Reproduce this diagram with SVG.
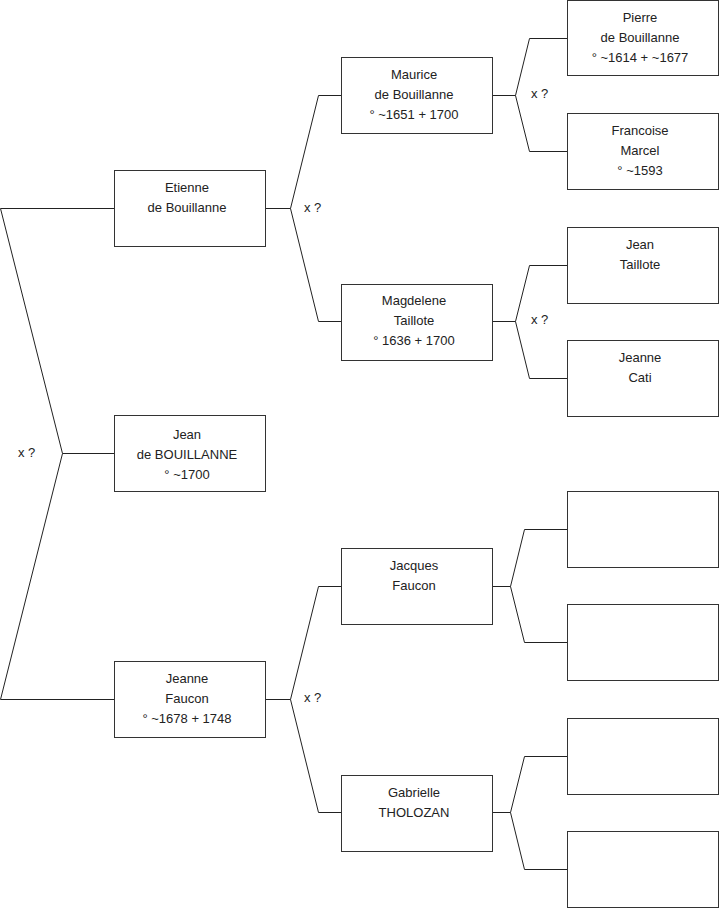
<svg xmlns="http://www.w3.org/2000/svg" width="719" height="908" viewBox="0 0 719 908">
<style>
.box{fill:#fff;stroke:#333;stroke-width:1}
.c{fill:none;stroke:#222;stroke-width:1}
text{font-family:"Liberation Sans",Arial,sans-serif;font-size:13px;fill:#222;text-anchor:middle}
.l{text-anchor:start}
</style>
<rect width="719" height="908" fill="#fff"/>
<g id="connectors">
<polyline class="c" points="114,208.5 0.5,208.5 62.5,453.5 0.5,699.5 114,699.5"/>
<line class="c" x1="62.5" y1="453.5" x2="114" y2="453.5"/>
<polyline class="c" points="341,95.5 318.5,95.5 290.5,208.5 318.5,321.5 341,321.5"/>
<line class="c" x1="265" y1="208.5" x2="290.5" y2="208.5"/>
<polyline class="c" points="341,586.5 318.5,586.5 290.5,699.5 318.5,812.5 341,812.5"/>
<line class="c" x1="265" y1="699.5" x2="290.5" y2="699.5"/>
<polyline class="c" points="567,38.5 529.5,38.5 515.5,95.5 529.5,151.5 567,151.5"/>
<line class="c" x1="492" y1="95.5" x2="515.5" y2="95.5"/>
<polyline class="c" points="567,265.5 529.5,265.5 515.5,321.5 529.5,378.5 567,378.5"/>
<line class="c" x1="492" y1="321.5" x2="515.5" y2="321.5"/>
<polyline class="c" points="567,529.5 524.5,529.5 510.5,586.5 524.5,642.5 567,642.5"/>
<line class="c" x1="492" y1="586.5" x2="510.5" y2="586.5"/>
<polyline class="c" points="567,756.5 524.5,756.5 510.5,812.5 524.5,869.5 567,869.5"/>
<line class="c" x1="492" y1="812.5" x2="510.5" y2="812.5"/>
<text class="l" x="18" y="457">x ?</text>
<text class="l" x="304" y="212">x ?</text>
<text class="l" x="304" y="702">x ?</text>
<text class="l" x="531" y="98">x ?</text>
<text class="l" x="531" y="324">x ?</text>
</g>
<g id="etienne"><rect class="box" x="114.5" y="170.5" width="151" height="76"/><text x="187" y="192">Etienne</text><text x="187" y="212">de Bouillanne</text></g>
<g id="jean"><rect class="box" x="114.5" y="415.5" width="151" height="76"/><text x="187" y="439">Jean</text><text x="187" y="459">de BOUILLANNE</text><text x="187" y="479">° ~1700</text></g>
<g id="jeanne-faucon"><rect class="box" x="114.5" y="661.5" width="151" height="76"/><text x="187" y="683">Jeanne</text><text x="187" y="703">Faucon</text><text x="187" y="723">° ~1678 + 1748</text></g>
<g id="maurice"><rect class="box" x="341.5" y="57.5" width="151" height="76"/><text x="414" y="79">Maurice</text><text x="414" y="99">de Bouillanne</text><text x="414" y="119">° ~1651 + 1700</text></g>
<g id="magdelene"><rect class="box" x="341.5" y="284.5" width="151" height="76"/><text x="414" y="305">Magdelene</text><text x="414" y="325">Taillote</text><text x="414" y="345">° 1636 + 1700</text></g>
<g id="jacques"><rect class="box" x="341.5" y="548.5" width="151" height="76"/><text x="414" y="570">Jacques</text><text x="414" y="590">Faucon</text></g>
<g id="gabrielle"><rect class="box" x="341.5" y="775.5" width="151" height="76"/><text x="414" y="797">Gabrielle</text><text x="414" y="817">THOLOZAN</text></g>
<g id="pierre"><rect class="box" x="567.5" y="0.5" width="151" height="75"/><text x="640" y="22">Pierre</text><text x="640" y="42">de Bouillanne</text><text x="640" y="62">° ~1614 + ~1677</text></g>
<g id="francoise"><rect class="box" x="567.5" y="113.5" width="151" height="76"/><text x="640" y="135">Francoise</text><text x="640" y="155">Marcel</text><text x="640" y="175">° ~1593</text></g>
<g id="jean-taillote"><rect class="box" x="567.5" y="227.5" width="151" height="76"/><text x="640" y="249">Jean</text><text x="640" y="269">Taillote</text></g>
<g id="jeanne-cati"><rect class="box" x="567.5" y="340.5" width="151" height="76"/><text x="640" y="362">Jeanne</text><text x="640" y="382">Cati</text></g>
<g id="empty1"><rect class="box" x="567.5" y="491.5" width="151" height="76"/></g>
<g id="empty2"><rect class="box" x="567.5" y="604.5" width="151" height="76"/></g>
<g id="empty3"><rect class="box" x="567.5" y="718.5" width="151" height="76"/></g>
<g id="empty4"><rect class="box" x="567.5" y="831.5" width="151" height="76"/></g>
</svg>
